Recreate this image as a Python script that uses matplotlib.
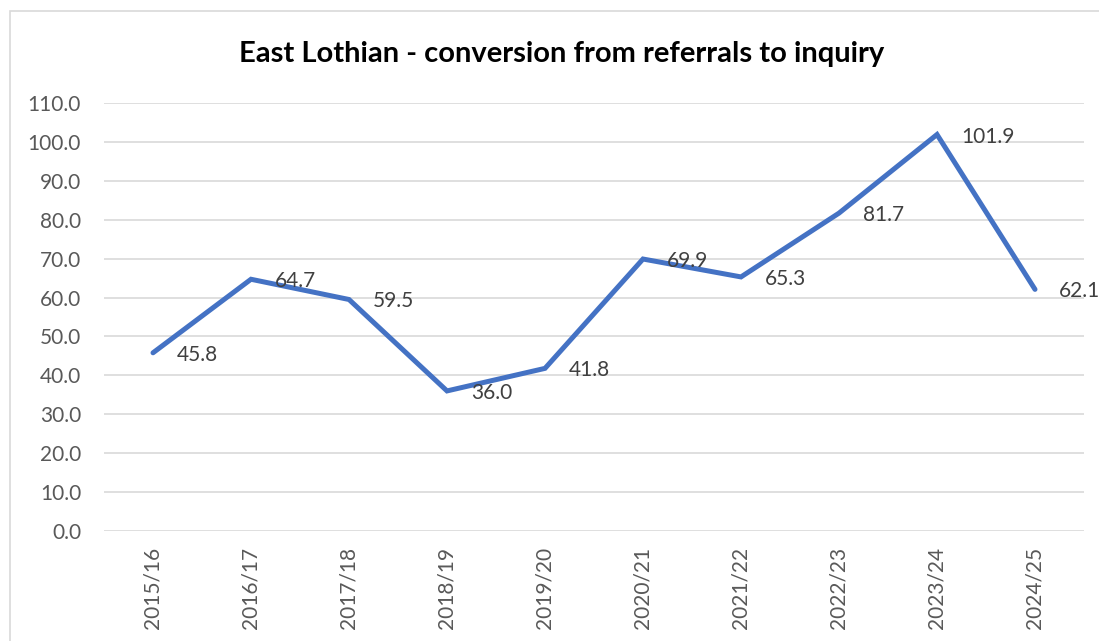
import matplotlib
matplotlib.use("Agg")
import matplotlib.pyplot as plt
from matplotlib.patches import Rectangle

categories = ["2015/16", "2016/17", "2017/18", "2018/19", "2019/20",
              "2020/21", "2021/22", "2022/23", "2023/24", "2024/25"]
values = [45.8, 64.7, 59.5, 36.0, 41.8, 69.9, 65.3, 81.7, 101.9, 62.1]
yticks = [0, 10, 20, 30, 40, 50, 60, 70, 80, 90, 100, 110]

W, H = 1099, 641
fig = plt.figure(figsize=(W/100, H/100), dpi=100)
plt.rcParams['font.family'] = ['Lato', 'DejaVu Sans']

# outer chart border
fig.patches.append(Rectangle((10/W, 0 - 0.05), 1.2, (H - 11)/H + 0.05,
                             transform=fig.transFigure, fill=False,
                             edgecolor="#D9D9D9", linewidth=1.2))

left, right = 104/W, 1084/W
bottom, top = 1 - 531/H, 1 - 103/H
ax = fig.add_axes([left, bottom, right - left, top - bottom])

x = list(range(len(categories)))
ax.plot(x, values, color="#4472C4", linewidth=3.6, solid_capstyle="round",
        solid_joinstyle="miter", zorder=3)
for xi, v in zip(x, values):
    ax.annotate(f"{v:.1f}", (xi, v), xytext=(24, -2), textcoords="offset pixels",
                ha="left", va="center", fontsize=15, color="#404040", zorder=4)

ax.set_xlim(-0.5, len(categories) - 0.5)
ax.set_ylim(0, 110)
ax.set_yticks(yticks)
ax.set_yticklabels([f"{t:.1f}" for t in yticks])
ax.set_xticks(x)
ax.set_xticklabels(categories, rotation=90)
ax.tick_params(axis="y", length=0, pad=16.5, labelsize=15, labelcolor="#595959")
ax.tick_params(axis="x", length=0, pad=11.5, labelsize=15, labelcolor="#595959")
ax.grid(axis="y", color="#D9D9D9", linewidth=1.2)
ax.set_axisbelow(True)
for s in ax.spines.values():
    s.set_visible(False)

fig.text(0.5 + 12/W, 1 - 62/H, "East Lothian - conversion from referrals to inquiry",
         ha="center", va="baseline", fontsize=21, fontweight="bold", color="black")

fig.savefig("out.png", dpi=100, facecolor="white")
